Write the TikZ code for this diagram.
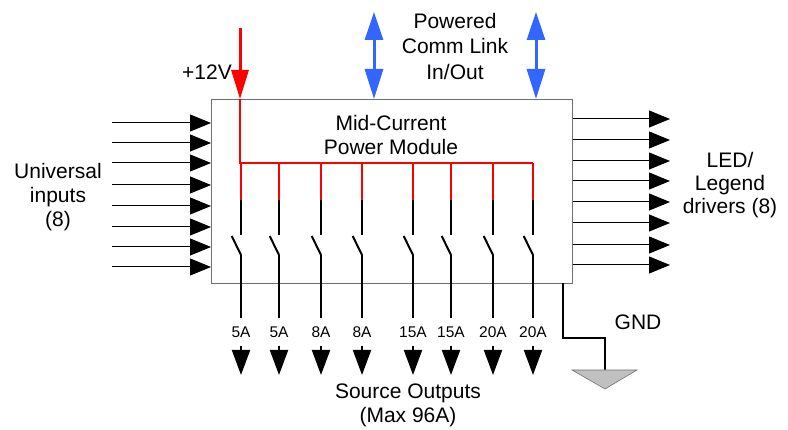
\documentclass[tikz,border=0pt]{standalone}
\usepackage{fontspec}
\setmainfont{Liberation Sans}
\usetikzlibrary{arrows.meta}
\definecolor{commblue}{RGB}{51,102,255}
\definecolor{gndgray}{RGB}{192,192,192}
\definecolor{boxgray}{RGB}{110,110,110}
\begin{document}
\begin{tikzpicture}[x=1pt,y=-1pt,
  lbl/.style={font=\fontsize{21}{24}\selectfont, align=center, inner sep=0pt},
  amp/.style={font=\fontsize{15.5}{18}\selectfont, inner sep=0pt, minimum height=27pt},
  sig/.style={line width=1pt, -{Triangle[length=21pt,width=17pt]}},
  powerin/.style={red, line width=3pt, -{Triangle[length=29pt,width=17pt]}},
  comm/.style={commblue, line width=3pt, {Triangle[length=28pt,width=18pt]}-{Triangle[length=30pt,width=18pt]}},
  rail/.style={red, line width=2pt},
  wire/.style={black, line width=2pt},
  outarrow/.style={black, line width=2pt, -{Triangle[length=25pt,width=18pt]}},
  gndwire/.style={black, line width=2.5pt},
  modbox/.style={draw=boxgray, line width=1.2pt, minimum width=361pt, minimum height=184pt, inner sep=0pt}
]
\useasboundingbox (0,0) rectangle (788,430);

% module box
\node[modbox, anchor=north west] (mod) at (211,99) {};
\node[lbl] (title) at (391,135) {Mid-Current\\Power Module};

% left inputs
\foreach \y [count=\i] in {123,143,163,185,206,227,247,267}{
  \coordinate (in\i) at (112,\y);
  \draw[sig] (in\i) -- (in\i -| mod.west);
}
\node[lbl] (ulabel) at (58,197) {Universal\\inputs\\(8)};

% right outputs
\foreach \y [count=\i] in {119,140,161,181,202,223,245,265}{
  \coordinate (led\i) at (670,\y);
  \draw[sig] (led\i -| mod.east) -- (led\i);
}
\node[lbl, font=\fontsize{21}{23}\selectfont] (ledlabel) at (730,185) {LED/\\Legend\\drivers (8)};

% +12V supply
\coordinate (v12) at (240,28);
\draw[powerin] (v12) -- (v12 |- mod.north);
\node[lbl] (v12label) at (207,72) {+12V};

% comm link
\coordinate (commA) at (374,12);
\coordinate (commB) at (536,12);
\draw[comm] (commA) -- (commA |- mod.north);
\draw[comm] (commB) -- (commB |- mod.north);
\node[lbl, font=\fontsize{21}{25.5}\selectfont] (commlabel) at (455,46) {Powered\\Comm Link\\In/Out};

% internal red rail
\coordinate (railL) at (240,163);
\coordinate (railR) at (533,163);
\draw[rail] (v12 |- mod.north) -- (railL) -- (railR);

% switches and outputs
\foreach \x/\a [count=\i] in {241/5A,279/5A,321/8A,362/8A,413/15A,451/15A,493/20A,533/20A}{
  \coordinate (top\i) at (\x,163);
  \coordinate (mid\i) at (\x,200);
  \coordinate (sw\i) at (\x,235);
  \coordinate (bl\i) at (\x-9.3,236);
  \coordinate (pv\i) at (\x,255);
  \coordinate (end\i) at (\x,375);
  \draw[rail] (top\i) -- (mid\i);
  \draw[wire] (mid\i) -- (sw\i);
  \draw[wire] (bl\i) -- (pv\i);
  \node[amp] (amp\i) at (\x,332) {\a};
  \draw[wire] (pv\i) -- (amp\i.north);
  \draw[outarrow] (amp\i.south) -- (end\i);
}
\node[lbl] (srclabel) at (408,405) {Source Outputs\\(Max 96A)};

% ground
\coordinate (g0) at (563,283);
\coordinate (g1) at (563,338);
\coordinate (g2) at (605,338);
\coordinate (g3) at (605,370);
\draw[gndwire] (g0) -- (g1) -- (g2) -- (g3);
\draw[gndgray!60!black, fill=gndgray, line width=0.6pt] (572,370) -- (637,370) -- (605,389) -- cycle;
\node[lbl] (gndlabel) at (638,322) {GND};
\end{tikzpicture}
\end{document}
